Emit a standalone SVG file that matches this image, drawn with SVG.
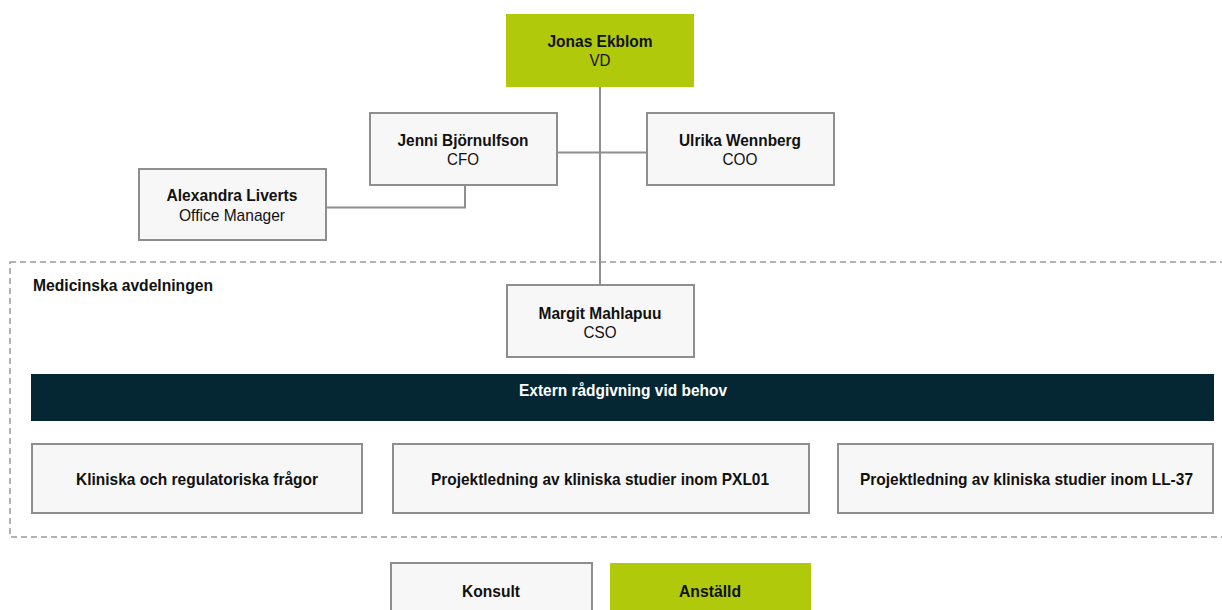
<svg xmlns="http://www.w3.org/2000/svg" width="1222" height="610" viewBox="0 0 1222 610">
<style>
text{font-family:"Liberation Sans Narrow","Liberation Sans",Arial,sans-serif;fill:#111;font-size:17px;text-anchor:middle}
.b{font-weight:bold}
.box{fill:#f7f7f7;stroke:#8e8e8e;stroke-width:2}
.green{fill:#b0c90b}
.con{fill:none;stroke:#8e8e8e;stroke-width:2}
</style>
<rect width="1222" height="610" fill="#fff"/>
<g id="medicinska">
<rect x="10" y="262" width="1216" height="275" fill="none" stroke="#9a9a9a" stroke-width="1.5" stroke-dasharray="6 4"/>
<text class="b" x="33" y="291" style="text-anchor:start" textLength="180" lengthAdjust="spacingAndGlyphs">Medicinska avdelningen</text>
</g>
<g id="connectors">
<path class="con" d="M600 87V285M557 152.5H646M465 185V207.5H326"/>
</g>
<g id="jonas">
<rect class="green" x="506" y="14" width="188" height="73"/>
<text class="b" x="600" y="47" textLength="105" lengthAdjust="spacingAndGlyphs">Jonas Ekblom</text>
<text x="600" y="66" textLength="21" lengthAdjust="spacingAndGlyphs">VD</text>
</g>
<g id="jenni">
<rect class="box" x="370" y="113" width="187" height="72"/>
<text class="b" x="463" y="146" textLength="131" lengthAdjust="spacingAndGlyphs">Jenni Björnulfson</text>
<text x="463" y="165" textLength="32" lengthAdjust="spacingAndGlyphs">CFO</text>
</g>
<g id="ulrika">
<rect class="box" x="647" y="113" width="187" height="72"/>
<text class="b" x="740" y="146" textLength="122" lengthAdjust="spacingAndGlyphs">Ulrika Wennberg</text>
<text x="740" y="165" textLength="35" lengthAdjust="spacingAndGlyphs">COO</text>
</g>
<g id="alexandra">
<rect class="box" x="139" y="169" width="187" height="71"/>
<text class="b" x="232" y="201" textLength="131" lengthAdjust="spacingAndGlyphs">Alexandra Liverts</text>
<text x="232" y="221" textLength="106" lengthAdjust="spacingAndGlyphs">Office Manager</text>
</g>
<g id="margit">
<rect class="box" x="507" y="285" width="187" height="72"/>
<text class="b" x="600" y="319" textLength="123" lengthAdjust="spacingAndGlyphs">Margit Mahlapuu</text>
<text x="600" y="338" textLength="33" lengthAdjust="spacingAndGlyphs">CSO</text>
</g>
<g id="extern">
<rect x="31" y="374" width="1183" height="47" fill="#052733"/>
<text class="b" x="623" y="396" style="fill:#fff" textLength="208" lengthAdjust="spacingAndGlyphs">Extern rådgivning vid behov</text>
</g>
<g id="kliniska">
<rect class="box" x="32" y="444" width="330" height="69"/>
<text class="b" x="197" y="485" textLength="242" lengthAdjust="spacingAndGlyphs">Kliniska och regulatoriska frågor</text>
</g>
<g id="pxl01">
<rect class="box" x="393" y="444" width="416" height="69"/>
<text class="b" x="600" y="485" textLength="338" lengthAdjust="spacingAndGlyphs">Projektledning av kliniska studier inom PXL01</text>
</g>
<g id="ll37">
<rect class="box" x="838" y="444" width="375" height="69"/>
<text class="b" x="1026.5" y="485" textLength="333" lengthAdjust="spacingAndGlyphs">Projektledning av kliniska studier inom LL-37</text>
</g>
<g id="konsult">
<rect class="box" x="391" y="563" width="201" height="50"/>
<text class="b" x="491" y="597" textLength="58" lengthAdjust="spacingAndGlyphs">Konsult</text>
</g>
<g id="anstalld">
<rect class="green" x="610" y="563" width="201" height="50"/>
<text class="b" x="710" y="597" textLength="62" lengthAdjust="spacingAndGlyphs">Anställd</text>
</g>
</svg>
